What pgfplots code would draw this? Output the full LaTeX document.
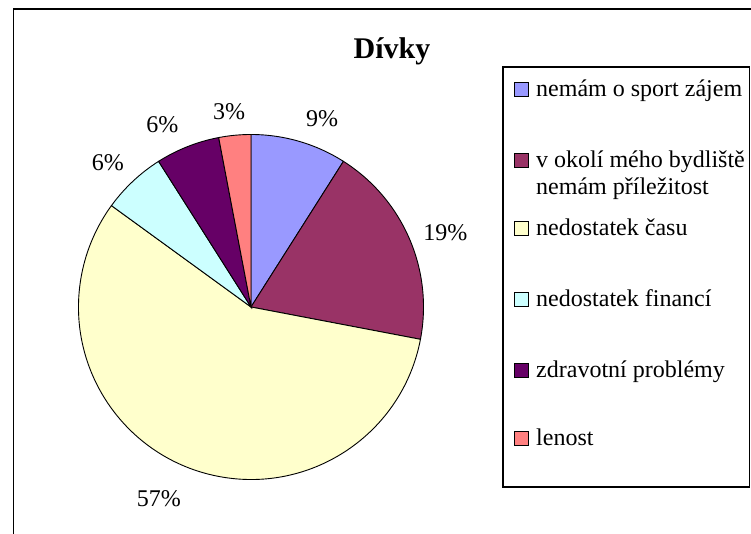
\documentclass[border=0pt]{standalone}
\usepackage{pgfplots}
\pgfplotsset{compat=1.18}
\usepackage{pgfplotstable}
\usepackage{fontspec}
\setmainfont{Liberation Serif}
\definecolor{s0}{HTML}{9999FF}
\definecolor{s1}{HTML}{993366}
\definecolor{s2}{HTML}{FFFFCC}
\definecolor{s3}{HTML}{CCFFFF}
\definecolor{s4}{HTML}{660066}
\definecolor{s5}{HTML}{FF8080}
\newcommand\lbl{\fontsize{24}{28}\selectfont}
% value, label distance (in radii), label angle shift (deg)
\pgfplotstableread{
value labr laba
9  1.165 -4.5
19 1.206 -2.6
57 1.235 -2.2
6  1.177 1.6
6  1.177 4.3
3  1.142 1.0
}\piedata
\begin{document}
\begin{tikzpicture}[x=1pt,y=1pt]
\useasboundingbox (0,0) rectangle (751,534);
% outer frame
\draw[line width=1.6pt] (13.5,-5) -- (13.5,525) -- (760,525);
% cumulative angles
\gdef\cum{0}
\foreach \i in {0,...,5}{
  \pgfplotstablegetelem{\i}{labr}\of\piedata
  \expandafter\xdef\csname lr\i\endcsname{\pgfplotsretval}
  \pgfplotstablegetelem{\i}{laba}\of\piedata
  \expandafter\xdef\csname la\i\endcsname{\pgfplotsretval}
  \pgfplotstablegetelem{\i}{value}\of\piedata
  \pgfmathsetmacro\sa{90-3.6*\cum}
  \pgfmathsetmacro\newcum{\cum+\pgfplotsretval}
  \pgfmathsetmacro\ea{90-3.6*\newcum}
  \pgfmathsetmacro\md{(\sa+\ea)/2+\csname la\i\endcsname}
  \expandafter\xdef\csname sa\i\endcsname{\sa}
  \expandafter\xdef\csname ea\i\endcsname{\ea}
  \expandafter\xdef\csname md\i\endcsname{\md}
  \expandafter\xdef\csname pv\i\endcsname{\pgfplotsretval}
  \xdef\cum{\newcum}
}
\begin{axis}[hide axis, x=172.5pt, y=172.5pt, xmin=-1, xmax=1, ymin=-1, ymax=1,
  at={(251pt,227pt)}, anchor=origin, clip=false]
\pgfplotsinvokeforeach{0,...,5}{
  \draw[fill=s#1, line width=0.9pt]
    (axis cs:0,0) -- (axis cs:{cos(\csname sa#1\endcsname)},{sin(\csname sa#1\endcsname)})
    arc[start angle=\csname sa#1\endcsname, end angle=\csname ea#1\endcsname, radius=172.5pt] -- cycle;
  \node[font=\lbl, inner sep=0pt] at (axis cs:{\csname lr#1\endcsname*cos(\csname md#1\endcsname)},{\csname lr#1\endcsname*sin(\csname md#1\endcsname)}) {\csname pv#1\endcsname\%};
}
\end{axis}
% title
\node[font=\bfseries\fontsize{30}{34}\selectfont, anchor=base, inner sep=0pt] at (392,475) {Dívky};
% legend
\draw[line width=1.3pt, fill=white] (503,467) rectangle (749.5,47);
\foreach \c/\b in {s0/97, s1/168, s2/236, s3/307, s4/378, s5/446}{
  \draw[fill=\c, line width=0.9pt] (514,{534-\b+1}) rectangle (528,{534-\b+15});
}
\node[font=\lbl, anchor=base west, inner sep=0pt] at (536,{534-97}) {nemám o sport zájem};
\node[font=\lbl, anchor=base west, inner sep=0pt] at (536,{534-168}) {v okolí mého bydliště};
\node[font=\lbl, anchor=base west, inner sep=0pt] at (536,{534-195}) {nemám příležitost};
\node[font=\lbl, anchor=base west, inner sep=0pt] at (536,{534-236}) {nedostatek času};
\node[font=\lbl, anchor=base west, inner sep=0pt] at (536,{534-307}) {nedostatek financí};
\node[font=\lbl, anchor=base west, inner sep=0pt] at (536,{534-378}) {zdravotní problémy};
\node[font=\lbl, anchor=base west, inner sep=0pt] at (536,{534-446}) {lenost};
\end{tikzpicture}
\end{document}
